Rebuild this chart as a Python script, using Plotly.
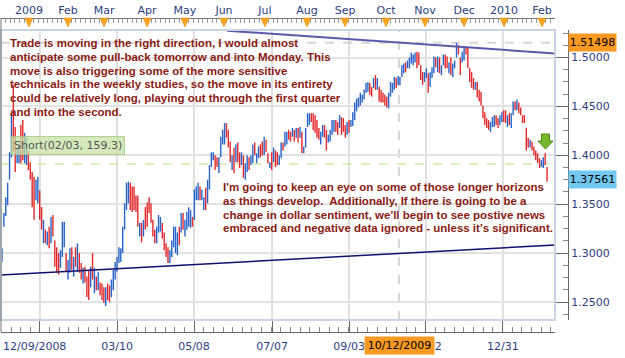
import plotly.graph_objects as go

# ---------------- data (daily EUR/USD bars) ----------------
highs = [
    # Dec 2008 - early Mar 2009
    1.305, 1.341, 1.357, 1.372, 1.403, 1.443, 1.472, 1.429, 1.408, 1.410,
    1.431, 1.436, 1.423, 1.418, 1.405, 1.393, 1.383, 1.378, 1.375, 1.378,
    1.364, 1.347, 1.334, 1.324, 1.322, 1.327, 1.337, 1.339, 1.313, 1.306,
    1.300, 1.303, 1.332, 1.332, 1.300, 1.293, 1.305, 1.306, 1.296, 1.306,
    1.310, 1.300, 1.290, 1.285, 1.286, 1.276, 1.283, 1.286, 1.300, 1.285,
    1.276, 1.281, 1.270, 1.269, 1.265, 1.265, 1.269, 1.267, 1.273,
    # Mar - Jun 2009
    1.283, 1.291, 1.296, 1.306, 1.305, 1.327, 1.351, 1.372, 1.373, 1.372,
    1.368, 1.368, 1.359, 1.359, 1.331, 1.331, 1.334, 1.347, 1.352, 1.357,
    1.351, 1.334, 1.324, 1.327, 1.339, 1.337, 1.331, 1.321, 1.310, 1.306,
    1.303, 1.313, 1.327, 1.327, 1.321, 1.327, 1.341, 1.341, 1.334, 1.342,
    1.347, 1.344, 1.337, 1.365, 1.368, 1.372, 1.368, 1.365, 1.357, 1.367,
    1.375, 1.390, 1.403, 1.403, 1.400, 1.398, 1.398, 1.419, 1.426,
    # Jun - Sep 2009
    1.433, 1.433, 1.426, 1.414, 1.400, 1.408, 1.411, 1.413, 1.403, 1.403,
    1.400, 1.392, 1.400, 1.398, 1.400, 1.411, 1.413, 1.402, 1.409, 1.411,
    1.414, 1.419, 1.416, 1.402, 1.393, 1.403, 1.408, 1.405, 1.403, 1.400,
    1.413, 1.413, 1.424, 1.424, 1.426, 1.424, 1.428, 1.426, 1.428, 1.428,
    1.429, 1.424, 1.409, 1.428, 1.443, 1.443, 1.443, 1.443, 1.441, 1.436,
    1.428, 1.424, 1.431, 1.431, 1.426, 1.421, 1.426, 1.436, 1.436,
    # Sep - Nov 2009
    1.436, 1.434, 1.441, 1.439, 1.438, 1.431, 1.434, 1.436, 1.436, 1.444,
    1.454, 1.458, 1.459, 1.464, 1.462, 1.467, 1.474, 1.475, 1.474, 1.470,
    1.479, 1.482, 1.479, 1.470, 1.467, 1.464, 1.462, 1.460, 1.464, 1.475,
    1.474, 1.480, 1.479, 1.481, 1.480, 1.492, 1.494, 1.495, 1.497, 1.500,
    1.505, 1.503, 1.505, 1.506, 1.505, 1.492, 1.485, 1.485, 1.489, 1.484,
    1.485, 1.490, 1.501, 1.500, 1.501, 1.500, 1.492, 1.503, 1.503,
    # Nov 2009 - Feb 2010
    1.501, 1.495, 1.500, 1.494, 1.497, 1.515, 1.513, 1.500, 1.506, 1.510,
    1.511, 1.510, 1.489, 1.485, 1.479, 1.475, 1.475, 1.467, 1.465, 1.451,
    1.444, 1.438, 1.436, 1.434, 1.439, 1.441, 1.441, 1.438, 1.441, 1.444,
    1.446, 1.446, 1.441, 1.443, 1.443, 1.455, 1.455, 1.457, 1.454, 1.449,
    1.441, 1.441, 1.428, 1.418, 1.416, 1.414, 1.409, 1.405, 1.402, 1.397,
    1.395, 1.398, 1.402, 1.388,
]
lows = [
    1.291, 1.327, 1.338, 1.349, 1.375, 1.398, 1.403, 1.383, 1.392, 1.392,
    1.392, 1.395, 1.392, 1.390, 1.385, 1.375, 1.347, 1.334, 1.354, 1.351,
    1.334, 1.324, 1.310, 1.310, 1.308, 1.305, 1.310, 1.317, 1.286, 1.280,
    1.278, 1.285, 1.296, 1.306, 1.281, 1.273, 1.280, 1.283, 1.276, 1.286,
    1.281, 1.280, 1.273, 1.269, 1.270, 1.255, 1.252, 1.265, 1.273, 1.259,
    1.262, 1.262, 1.257, 1.252, 1.249, 1.246, 1.252, 1.250, 1.255,
    1.262, 1.273, 1.281, 1.290, 1.291, 1.300, 1.324, 1.344, 1.351, 1.344,
    1.342, 1.344, 1.342, 1.327, 1.317, 1.311, 1.317, 1.324, 1.327, 1.341,
    1.331, 1.317, 1.310, 1.310, 1.321, 1.322, 1.315, 1.303, 1.296, 1.290,
    1.290, 1.296, 1.306, 1.300, 1.298, 1.308, 1.321, 1.324, 1.317, 1.324,
    1.327, 1.326, 1.327, 1.334, 1.354, 1.354, 1.354, 1.354, 1.344, 1.344,
    1.351, 1.365, 1.388, 1.395, 1.385, 1.388, 1.382, 1.398, 1.411,
    1.411, 1.418, 1.408, 1.393, 1.385, 1.382, 1.393, 1.393, 1.387, 1.390,
    1.377, 1.375, 1.383, 1.385, 1.390, 1.392, 1.400, 1.392, 1.397, 1.398,
    1.400, 1.400, 1.403, 1.392, 1.387, 1.385, 1.393, 1.388, 1.390, 1.390,
    1.397, 1.405, 1.409, 1.411, 1.416, 1.414, 1.419, 1.414, 1.418, 1.413,
    1.418, 1.402, 1.402, 1.408, 1.429, 1.431, 1.434, 1.426, 1.423, 1.418,
    1.416, 1.411, 1.419, 1.418, 1.405, 1.413, 1.414, 1.421, 1.424,
    1.424, 1.421, 1.428, 1.421, 1.424, 1.418, 1.421, 1.423, 1.429, 1.430,
    1.436, 1.445, 1.449, 1.451, 1.454, 1.457, 1.464, 1.465, 1.462, 1.460,
    1.469, 1.467, 1.467, 1.455, 1.454, 1.454, 1.451, 1.449, 1.448, 1.460,
    1.464, 1.467, 1.469, 1.472, 1.472, 1.480, 1.484, 1.485, 1.489, 1.489,
    1.494, 1.492, 1.495, 1.489, 1.492, 1.477, 1.472, 1.475, 1.479, 1.464,
    1.470, 1.479, 1.484, 1.490, 1.485, 1.484, 1.482, 1.492, 1.489,
    1.489, 1.484, 1.482, 1.480, 1.489, 1.500, 1.503, 1.482, 1.495, 1.497,
    1.503, 1.489, 1.475, 1.469, 1.467, 1.467, 1.459, 1.455, 1.451, 1.438,
    1.431, 1.428, 1.426, 1.424, 1.429, 1.429, 1.431, 1.428, 1.431, 1.434,
    1.434, 1.433, 1.429, 1.431, 1.428, 1.441, 1.446, 1.446, 1.443, 1.441,
    1.433, 1.433, 1.405, 1.408, 1.408, 1.405, 1.400, 1.395, 1.392, 1.387,
    1.388, 1.387, 1.390, 1.373,
]
direction = (
    "UUUUUUDDUU" "DDUUDDDDUU" "DDUDUDUDDD" "DUUUDUUDUD" "UDDUDDDUDU" "DUDDDUDDU"
    "UUUUUUUUUD" "DDDDUDUDDD" "DDDUUUDDDD" "UUUUUDUDUU" "UUDUUUDUUD" "UUUUDDUUU"
    "UDDDUDUDDU" "DUUDUUDUUD" "DUDDUDUDDU" "UDUUDDUDUD" "UDUUUUDDDD" "DUUDDUUUU"
    "DDUDDDUDUU" "UUUUUUUUDD" "UDUDDDDDUU" "UUDUUUUDUU" "UUUDDDDUUD" "UUUDUDUUD"
    "DUDUUUDDUU" "DDDDDUDDDD" "DDDUUUDDUU" "DDUDUUDUDD" "DDDDUDDDDD" "UUDD"
)
assert len(highs) == len(lows) == len(direction), (len(highs), len(lows), len(direction))

month_labels = ["2009", "Feb", "Mar", "Apr", "May", "Jun", "Jul", "Aug",
                "Sep", "Oct", "Nov", "Dec", "2010", "Feb"]
month_pos = [14.3, 35.0, 54.1, 76.9, 97.0, 117.7, 139.4, 161.7,
             181.9, 203.6, 224.3, 245.0, 266.2, 286.3]
date_labels = ["12/09/2008\u00a0\u00a0\u00a0", "03/10", "05/08", "07/07", "09/03", "11/02", "12/31"]
date_pos = [20.1, 61.0, 101.8, 143.2, 184.0, 224.8, 265.6]
price_ticks = [1.25, 1.30, 1.35, 1.40, 1.45, 1.50]

upper_trend_x = [119.3, 293.2]
upper_trend_y = [1.5274, 1.5042]
lower_trend_x = [-0.53, 293.2]
lower_trend_y = [1.2776, 1.3083]

short_level = 1.3911
short_label = "Short(02/03, 159.3)"
cross_x = 210.5
cross_price = 1.51498
cross_date = "10/12/2009"
last_price = 1.37561

notes_1 = [
    "Trade is moving in the right direction, I would almost",
    "anticipate some pull-back tomorrow and into Monday. This",
    "move is also triggering some of the more sensitive",
    "technicals in the weekly studies, so the move in its entirety",
    "could be relatively long, playing out through the first quarter",
    "and into the second.",
]
notes_2 = [
    "I'm going to keep an eye on some of those longer horizons",
    "as things develop.  Additionally, If there is going to be a",
    "change in dollar sentiment, we'll begin to see postive news",
    "embraced and negative data ignored - unless it's significant.",
]

# ---------------- geometry ----------------
W, H = 625, 358
ML, MR, MT, MB = 1, 57, 18, 26
PW, PH = W - ML - MR, H - MT - MB


def fx(px):
    return (px - ML) / PW


def fy(py):
    return (H - MB - py) / PH


X_DOM = [0, fx(555)]
Y_DOM = [fy(320), fy(30)]
X_RANGE = [-0.53, 293.21]
Y_RANGE = [1.2316, 1.52813]

AXIS_FONT = dict(family="DejaVu Sans", size=11, color="#2c3e7e")
NOTE_FONT = dict(family="Liberation Sans, Arial", size=11.5, color="#8a1a12")

# ---------------- traces ----------------
up_x, up_y, dn_x, dn_y = [], [], [], []
for i, (h, l, d) in enumerate(zip(highs, lows, direction)):
    xs, ys = (up_x, up_y) if d == "U" else (dn_x, dn_y)
    xs += [i, i, None]
    ys += [l, h, None]

fig = go.Figure()
fig.add_trace(go.Scatter(x=dn_x, y=dn_y, mode="lines", line=dict(color="#e3282b", width=1.4),
                         hoverinfo="skip", showlegend=False))
fig.add_trace(go.Scatter(x=up_x, y=up_y, mode="lines", line=dict(color="#2763c8", width=1.4),
                         hoverinfo="skip", showlegend=False))
fig.add_trace(go.Scatter(x=lower_trend_x, y=lower_trend_y, mode="lines",
                         line=dict(color="#10106e", width=1.5), hoverinfo="skip", showlegend=False))
fig.add_trace(go.Scatter(x=upper_trend_x, y=upper_trend_y, mode="lines", xaxis="x2",
                         line=dict(color="#5a5aaa", width=2), hoverinfo="skip", showlegend=False))

# ---------------- shapes ----------------
shapes = []
for p in date_pos:
    shapes.append(dict(type="line", xref="x", yref="y domain", x0=p, x1=p, y0=0, y1=1,
                       line=dict(color="#e0e0e0", width=2), layer="below"))
shapes.append(dict(type="line", xref="x", yref="y domain", x0=cross_x, x1=cross_x, y0=0, y1=1,
                   line=dict(color="#d6d6d6", width=2, dash="dash"), layer="below"))
shapes.append(dict(type="line", xref="x domain", yref="y", x0=0, x1=1, y0=cross_price, y1=cross_price,
                   line=dict(color="#d6d6d6", width=2, dash="dash"), layer="below"))
shapes.append(dict(type="line", xref="x domain", yref="y", x0=0, x1=1, y0=short_level, y1=short_level,
                   line=dict(color="#bde27c", width=1.2, dash="dash"), layer="below"))
shapes.append(dict(type="rect", xref="x domain", yref="y domain", x0=0, x1=1, y0=0, y1=1,
                   line=dict(color="#c8d4e2", width=2), layer="above"))
shapes.append(dict(type="line", xref="paper", yref="paper", x0=0, x1=0, y0=0, y1=1,
                   line=dict(color="#777777", width=1)))
for m in month_pos:
    shapes.append(dict(type="path", xref="x", yref="paper",
                       path=f"M {m - 2.2},{fy(18)} L {m + 2.2},{fy(18)} L {m},{fy(27)} Z",
                       fillcolor="#f9a422", line=dict(color="#e58c0c", width=0.5), layer="above"))
arrow = [(541.5, 134), (549.5, 134), (549.5, 141), (553, 141), (545.5, 149), (538, 141), (541.5, 141)]
shapes.append(dict(type="path", xref="paper", yref="paper",
                   path="M " + " L ".join(f"{fx(a)},{fy(b)}" for a, b in arrow) + " Z",
                   fillcolor="#78b82c", line=dict(color="#4e8a12", width=1), layer="above"))

# ---------------- annotations ----------------
ann = []
for i, line in enumerate(notes_1):
    ann.append(dict(xref="paper", yref="paper", x=fx(8), y=fy(43 + i * 13.8), xanchor="left",
                    yanchor="middle", text=f"<b>{line}</b>", showarrow=False, font=NOTE_FONT))
for i, line in enumerate(notes_2):
    ann.append(dict(xref="paper", yref="paper", x=fx(221), y=fy(187 + i * 13.8), xanchor="left",
                    yanchor="middle", text=f"<b>{line}</b>", showarrow=False, font=NOTE_FONT))
ann.append(dict(xref="paper", yref="paper", x=fx(67.5), y=fy(145.5), xanchor="center", yanchor="middle",
                text=short_label, showarrow=False, bgcolor="rgba(198,225,165,0.75)",
                bordercolor="rgba(165,200,125,0.8)", borderwidth=1, borderpad=2,
                font=dict(family="DejaVu Sans", size=11, color="#555555")))
ann.append(dict(xref="paper", yref="y", x=fx(592.5), y=cross_price, xanchor="center", yanchor="middle",
                text=f"{cross_price:.5f}", showarrow=False, bgcolor="#fb9a22", width=45, height=15,
                borderpad=1, font=dict(family="DejaVu Sans", size=11, color="#000000")))
ann.append(dict(xref="paper", yref="y", x=fx(592.5), y=last_price, xanchor="center", yanchor="middle",
                text=f"{last_price:.5f}", showarrow=False, bgcolor="#73c8f2", width=45, height=15,
                borderpad=1, font=dict(family="DejaVu Sans", size=11, color="#000000")))
ann.append(dict(xref="x", yref="paper", x=cross_x, y=fy(345), xanchor="center", yanchor="middle",
                text=cross_date, showarrow=False, bgcolor="#fb9a22", width=67, height=15,
                borderpad=1, font=dict(family="DejaVu Sans", size=11, color="#000000")))

# ---------------- layout ----------------
fig.update_layout(
    width=W, height=H,
    margin=dict(l=ML, r=MR, t=MT, b=MB, pad=0),
    paper_bgcolor="white", plot_bgcolor="white",
    hovermode=False, showlegend=False,
    shapes=shapes, annotations=ann,
    xaxis=dict(domain=X_DOM, range=X_RANGE, anchor="free", position=0,
               tickmode="array", tickvals=date_pos, ticktext=date_labels,
               ticks="inside", ticklen=12, tickcolor="#666666", tickwidth=1,
               showline=True, linecolor="#666666", linewidth=1,
               showgrid=False, zeroline=False, tickfont=AXIS_FONT, ticklabelstandoff=4,
               minor=dict(tickmode="linear", tick0=20.1, dtick=5.11, ticks="inside",
                          ticklen=5, tickcolor="#888888")),
    xaxis2=dict(domain=X_DOM, range=X_RANGE, overlaying="x", anchor="free", position=1, side="top",
                tickmode="array", tickvals=month_pos, ticktext=month_labels,
                ticks="inside", ticklen=4, tickcolor="#888888",
                showline=True, linecolor="#777777", linewidth=1,
                showgrid=False, zeroline=False, tickfont=AXIS_FONT,
                minor=dict(tickmode="linear", tick0=14.3, dtick=2.49, ticks="inside",
                           ticklen=4, tickcolor="#999999")),
    yaxis=dict(domain=Y_DOM, range=Y_RANGE, side="right", anchor="free", position=1,
               tickmode="array", tickvals=price_ticks, ticktext=[f"{v:.4f}" for v in price_ticks],
               ticks="inside", ticklen=13, tickcolor="#666666",
               showline=True, linecolor="#666666", linewidth=1,
               showgrid=True, gridcolor="#e2e2e2", gridwidth=2, zeroline=False, tickfont=AXIS_FONT,
               minor=dict(tickmode="linear", tick0=1.25, dtick=0.0125, ticks="inside",
                          ticklen=5, tickcolor="#888888")),
)

fig.write_html("out.html")
